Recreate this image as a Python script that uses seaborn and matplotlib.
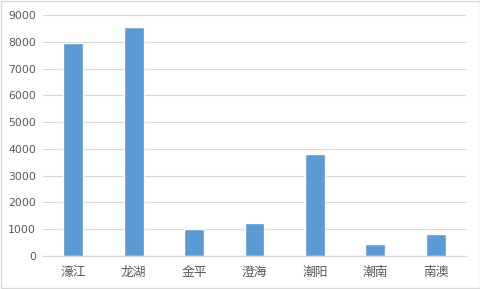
import matplotlib
matplotlib.use("Agg")
import matplotlib.pyplot as plt
import seaborn as sns
import pandas as pd
from matplotlib.patches import Rectangle

categories = ["濠江", "龙湖", "金平", "澄海", "潮阳", "潮南", "南澳"]
values = [7950, 8540, 1000, 1240, 3820, 450, 825]
yticks = [0, 1000, 2000, 3000, 4000, 5000, 6000, 7000, 8000, 9000]

sns.set_style("white")
plt.rcParams['font.family'] = ['Noto Sans CJK SC', 'DejaVu Sans']

df = pd.DataFrame({"cat": categories, "val": values})

fig = plt.figure(figsize=(4.81, 2.89), dpi=100)
ax = fig.add_axes([43/481, 1-256/289, (466-43)/481, (256-15)/289])
sns.barplot(data=df, x="cat", y="val", color="#5B9BD5", saturation=1, width=0.33, ax=ax)

ax.set_ylim(0, 9000)
ax.set_xlim(-0.5, len(categories)-0.5)
ax.set_yticks(yticks)
ax.set_yticklabels([str(t) for t in yticks], fontsize=7.8, color="#595959", family=['DejaVu Sans'])
ax.tick_params(axis='x', labelsize=9.2, labelcolor="#595959", length=0, pad=7)
ax.tick_params(axis='y', length=0, pad=5)
ax.set_xlabel("")
ax.set_ylabel("")
ax.yaxis.grid(True, color="#d9d9d9", linewidth=0.9)
ax.set_axisbelow(True)
for s in ["top", "right", "left"]:
    ax.spines[s].set_visible(False)
ax.spines["bottom"].set_color("#d9d9d9")
ax.spines["bottom"].set_linewidth(0.9)

fig.patches.append(Rectangle((0.002, 0.003), 0.996, 0.994, transform=fig.transFigure,
                             fill=False, edgecolor="#d9d9d9", linewidth=1))

fig.savefig("out.png", dpi=100)
